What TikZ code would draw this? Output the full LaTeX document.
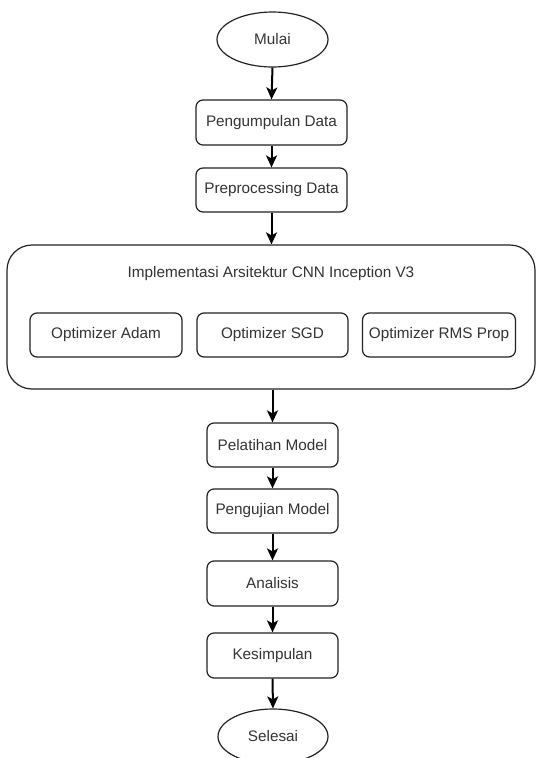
\documentclass[tikz,border=0pt]{standalone}
\usepackage{fontspec}
\setmainfont{Liberation Sans}
\usetikzlibrary{shapes.geometric,arrows.meta}
\definecolor{txt}{HTML}{333333}
\definecolor{edge}{HTML}{222222}
\tikzset{
  base/.style={draw=edge, line width=1.2pt, text=txt, inner sep=0pt,
    font=\fontsize{15.3}{18}\selectfont},
  box/.style={base, rectangle, rounded corners=7pt, minimum height=44pt},
  oval/.style={base, ellipse, minimum width=111pt, minimum height=55pt},
  arr/.style={draw=black, line width=2pt,
    -{Stealth[length=12pt,width=11pt,inset=3pt]}},
}
\begin{document}
\begin{tikzpicture}[x=1pt,y=-1pt]
\useasboundingbox (0,0) rectangle (536,758);
\node[oval] (mulai) at (272.5,39.5) {Mulai};
\node[box, minimum width=151pt, minimum height=45pt] (kumpul) at (271.5,122.5) {Pengumpulan Data};
\node[box, minimum width=151pt] (prep) at (271.5,190) {Preprocessing Data};
\node[base, rectangle, rounded corners=25pt, minimum width=528pt, minimum height=144pt] (cnn) at (271,317) {};
\node[text=txt, font=\fontsize{15.3}{18}\selectfont, inner sep=0pt] (title) at (271,274) {Implementasi Arsitektur CNN Inception V3};
\node[box, minimum width=152pt] (adam) at (106,335) {Optimizer Adam};
\node[box, minimum width=151pt] (sgd) at (272.5,335) {Optimizer SGD};
\node[box, minimum width=153pt] (rms) at (439,335) {Optimizer RMS Prop};
\node[box, minimum width=131pt] (latih) at (272.5,445) {Pelatihan Model};
\node[box, minimum width=131pt] (uji) at (272.5,511) {Pengujian Model};
\node[box, minimum width=131pt, minimum height=45pt] (analisis) at (272.5,583.5) {Analisis};
\node[box, minimum width=131pt, minimum height=45pt] (simpul) at (272.5,655.5) {Kesimpulan};
\node[oval, minimum width=110pt] (selesai) at (273,736.5) {Selesai};
\draw[arr] (mulai.south) -- (kumpul.north);
\draw[arr] (kumpul.south) -- (prep.north);
\draw[arr] (prep.south) -- (prep.south |- cnn.north);
\draw[arr] (latih.north |- cnn.south) -- (latih.north);
\draw[arr] (latih.south) -- (uji.north);
\draw[arr] (uji.south) -- (analisis.north);
\draw[arr] (analisis.south) -- (simpul.north);
\draw[arr] (simpul.south) -- (selesai.north);
\end{tikzpicture}
\end{document}
